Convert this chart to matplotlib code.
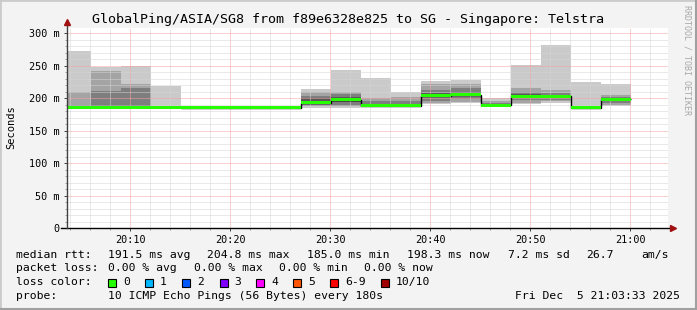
import numpy as np
import matplotlib
matplotlib.use('Agg')
import matplotlib.pyplot as plt
from matplotlib.patches import Rectangle

# 180 s steps, time in minutes after 20:00
step_start = [3.1, 6.1, 9.1, 12.1, 15.1, 18.1, 21.1, 24.1, 27.1, 30.1,
              33.1, 36.1, 39.1, 42.1, 45.1, 48.1, 51.1, 54.1, 57.1]
step_end = 60.1

# median rtt per step [ms]
median_ms = [185.5, 186.0, 186.0, 185.5, 185.0, 185.0, 185.0, 185.0, 193.0, 197.5,
             188.0, 188.0, 203.5, 204.8, 189.0, 203.0, 202.5, 185.0, 198.3]

# 10 sorted pings per step [ms]
pings = [
    [184.5, 185.0, 185.2, 185.4, 185.5, 185.6, 187.0, 190.0, 209.0, 272.0],
    [185.0, 185.5, 185.8, 186.0, 186.0, 186.2, 189.0, 211.0, 241.0, 248.0],
    [185.0, 185.5, 185.8, 186.0, 186.0, 186.2, 190.0, 215.0, 221.0, 250.0],
    [184.5, 185.0, 185.0, 185.3, 185.5, 185.6, 186.0, 186.5, 188.0, 219.0],
    [184.8, 184.9, 185.0, 185.0, 185.0, 185.0, 185.0, 185.1, 185.2, 185.3],
    [184.8, 184.9, 185.0, 185.0, 185.0, 185.0, 185.0, 185.1, 185.2, 185.3],
    [184.8, 184.9, 185.0, 185.0, 185.0, 185.0, 185.0, 185.1, 185.2, 185.3],
    [184.8, 184.9, 185.0, 185.0, 185.0, 185.0, 185.0, 185.1, 185.2, 185.3],
    [185.0, 187.0, 188.0, 192.0, 193.0, 193.0, 200.0, 203.5, 209.0, 214.0],
    [185.0, 187.0, 188.0, 194.0, 197.0, 198.0, 202.0, 206.0, 210.0, 243.0],
    [186.5, 187.0, 187.5, 188.0, 188.0, 188.0, 190.0, 195.0, 199.5, 231.0],
    [186.5, 187.0, 187.5, 188.0, 188.0, 188.0, 190.0, 195.0, 201.5, 210.0],
    [191.0, 193.0, 196.0, 201.0, 203.0, 204.0, 207.0, 212.0, 221.5, 226.0],
    [192.0, 194.0, 198.0, 203.0, 204.5, 205.0, 209.0, 216.0, 222.0, 228.0],
    [186.0, 187.0, 188.0, 188.5, 189.0, 189.0, 190.0, 193.0, 196.0, 199.5],
    [190.5, 193.0, 197.0, 201.0, 203.0, 203.5, 206.0, 209.0, 216.0, 250.5],
    [193.0, 195.0, 197.0, 200.0, 202.0, 202.5, 204.0, 208.0, 212.0, 281.5],
    [184.5, 184.8, 185.0, 185.0, 185.0, 185.2, 185.5, 186.0, 187.0, 224.5],
    [188.0, 190.0, 193.0, 196.0, 198.0, 198.6, 200.0, 202.0, 205.0, 221.5],
]

y_ticks = [0, 50, 100, 150, 200, 250, 300]
y_labels = ['0', '50 m', '100 m', '150 m', '200 m', '250 m', '300 m']
x_ticks = [10, 20, 30, 40, 50, 60]
x_labels = ['20:10', '20:20', '20:30', '20:40', '20:50', '21:00']

loss_labels = ['0', '1', '2', '3', '4', '5', '6-9', '10/10']
loss_colors = ['#26ff00', '#00b8ff', '#0059ff', '#7e00ff', '#ff00ff',
               '#ff5500', '#ff0000', '#a10000']

W, H = 697, 310
MONO = 'DejaVu Sans Mono'
plt.rcParams['font.family'] = MONO


def px(x, y):
    return x / W, 1 - y / H


fig = plt.figure(figsize=(W / 100, H / 100), dpi=100, facecolor='#f3f3f3')
ax = fig.add_axes([67 / W, 1 - 228 / H, 601 / W, 200 / H])
ax.set_facecolor('white')

edges = np.array(step_start + [step_end])
p = np.array(pings)
med = np.array(median_ms)

# smoke: nested bands, outer light -> inner dark
for k in range(5):
    grey = int(190 / 5 * (5 - (k + 1))) + 50
    col = '#%02x%02x%02x' % (grey, grey, grey)
    ax.stairs(p[:, 9 - k], edges, baseline=p[:, k], fill=True,
              color=col, linewidth=0, zorder=1)

# median
ax.stairs(med, edges, baseline=None, color='#000000', linewidth=1.0, zorder=3)
ax.stairs(med + 2.3, edges, baseline=med - 2.3, fill=True,
          color=loss_colors[0], linewidth=0, zorder=4)

ax.set_xlim(3.7, 63.8)
ax.set_ylim(0, 307.7)

ax.set_xticks(x_ticks)
ax.set_xticklabels(x_labels)
ax.set_xticks(np.arange(4, 64, 2), minor=True)
ax.set_yticks(y_ticks)
ax.set_yticklabels(y_labels)
ax.set_yticks(np.arange(0, 310, 10), minor=True)

ax.set_axisbelow(False)
ax.grid(which='minor', color='#d4d4d4', linestyle=(0, (1, 1)), linewidth=0.72)
ax.grid(which='major', color='#f4a0a0', linestyle=(0, (1, 1)), linewidth=0.72)
ax.tick_params(which='major', labelsize=7.3, length=2.5, width=0.7, color='#404040', pad=3)
ax.tick_params(which='minor', length=1.2, width=0.5, color='#808080')
ax.tick_params(axis='x', pad=2.5)

for s in ax.spines.values():
    s.set_visible(False)

# axes with arrows
ax.plot([-6 / 601, 1 + 4 / 601], [0, 0], transform=ax.transAxes, color='black',
        linewidth=1.0, clip_on=False, zorder=6)
ax.plot([0, 0], [0, 1 + 4 / 200], transform=ax.transAxes, color='#404040',
        linewidth=1.0, clip_on=False, zorder=6)
ax.plot([1 + 5 / 601], [0], marker='>', markersize=4.5, color='#a01010',
        transform=ax.transAxes, clip_on=False, zorder=7)
ax.plot([0], [1 + 6 / 200], marker='^', markersize=4.5, color='#a01010',
        transform=ax.transAxes, clip_on=False, zorder=7)

fig.text(*px(348, 19), 'GlobalPing/ASIA/SG8 from f89e6328e825 to SG - Singapore: Telstra',
         ha='center', va='center', fontsize=9.6)
fig.text(*px(11, 127), 'Seconds', rotation=90, ha='center', va='center', fontsize=7.5)
fig.text(*px(687, 60), 'RRDTOOL / TOBI OETIKER', rotation=270, ha='center', va='center',
         fontsize=6.0, color='#a8a8a8')

# legend
fs = 8.2
y1, y2, y3, y4 = 254.7, 268.3, 282.3, 296.0
for x, t in [(16, 'median rtt:'), (107.6, '191.5 ms avg'), (207, '204.8 ms max'),
             (307, '185.0 ms min'), (407, '198.3 ms now'), (507.6, '7.2 ms sd'),
             (585.8, '26.7'), (641, 'am/s')]:
    fig.text(*px(x, y1), t, ha='left', va='center', fontsize=fs)
for x, t in [(16, 'packet loss:'), (107.6, '0.00 % avg'), (193.8, '0.00 % max'),
             (279, '0.00 % min'), (364.4, '0.00 % now')]:
    fig.text(*px(x, y2), t, ha='left', va='center', fontsize=fs)
fig.text(*px(16, y3), 'loss color:', ha='left', va='center', fontsize=fs)
box_x = [108.4, 145.3, 182.2, 219.6, 256.4, 293.3, 330.2, 381.3]
for bx, lab, col in zip(box_x, loss_labels, loss_colors):
    fig.patches.append(Rectangle(px(bx, 286.5), 8 / W, 8 / H, transform=fig.transFigure,
                                 facecolor=col, edgecolor='black', linewidth=0.8))
    fig.text(*px(bx + 14.7, y3), lab, ha='left', va='center', fontsize=fs)
fig.text(*px(16, y4), 'probe:', ha='left', va='center', fontsize=fs)
fig.text(*px(107.6, y4), '10 ICMP Echo Pings (56 Bytes) every 180s', ha='left',
         va='center', fontsize=fs)
fig.text(*px(680, y4), 'Fri Dec  5 21:03:33 2025', ha='right', va='center', fontsize=fs)

# image border
fig.patches.append(Rectangle((0, 0), 1, 1, transform=fig.transFigure, fill=False,
                             edgecolor='#cbcbcb', linewidth=2))
fig.lines.append(plt.Line2D([1 - 1 / W, 1 - 1 / W], [0, 1], transform=fig.transFigure,
                            color='#a0a0a0', linewidth=1.5))
fig.lines.append(plt.Line2D([0, 1], [1 / H, 1 / H], transform=fig.transFigure,
                            color='#a0a0a0', linewidth=1.5))

fig.savefig('out.png', dpi=100, facecolor=fig.get_facecolor())
